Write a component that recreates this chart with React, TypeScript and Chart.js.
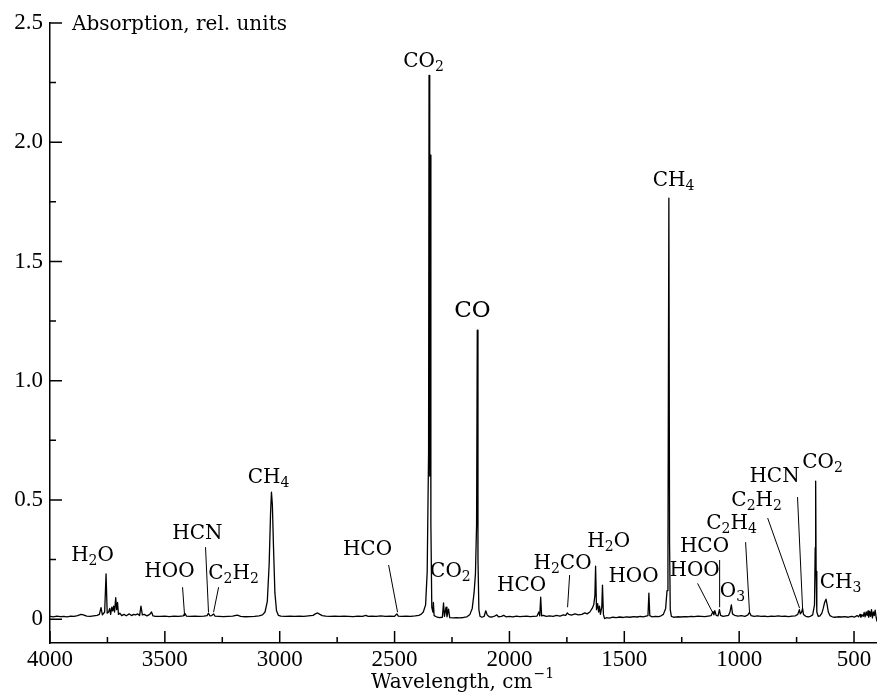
import React, { useEffect, useRef } from 'react';
import { Chart, registerables } from 'chart.js';

Chart.register(...registerables);

// ---- Spectrum data (wavenumber, cm^-1 / absorption, rel. units) ----
const wavenumbers = [
  4000, 3985, 3970, 3955, 3940, 3925, 3910, 3895, 3880, 3865, 3855, 3840, 3825, 3810, 3795, 3785,
  3778, 3772, 3762, 3756, 3751, 3745, 3740, 3736, 3731, 3727, 3723, 3719, 3714, 3710, 3706, 3702,
  3696, 3688, 3678, 3668, 3655, 3645, 3636, 3628, 3618, 3610, 3604, 3598, 3590, 3578, 3566, 3558,
  3552, 3540, 3520, 3500, 3480, 3460, 3440, 3420, 3413, 3406, 3390, 3370, 3350, 3330, 3316, 3310,
  3304, 3296, 3288, 3282, 3265, 3245, 3225, 3205, 3185, 3170, 3150, 3130, 3110, 3090, 3075, 3064,
  3054, 3046, 3040, 3036, 3032, 3027, 3021, 3014, 3006, 2995, 2975, 2955, 2935, 2915, 2895, 2875,
  2855, 2845, 2835, 2825, 2815, 2800, 2780, 2760, 2740, 2720, 2700, 2680, 2660, 2640, 2625, 2615,
  2600, 2580, 2560, 2540, 2520, 2500, 2490, 2484, 2470, 2450, 2430, 2410, 2395, 2385, 2375, 2365,
  2358, 2352, 2350, 2348, 2346, 2344, 2342, 2338, 2333, 2331, 2328, 2318, 2305, 2292, 2287, 2283,
  2276, 2272, 2265, 2260, 2245, 2230, 2215, 2200, 2185, 2172, 2162, 2154, 2148, 2143, 2140, 2137,
  2133, 2128, 2120, 2110, 2103, 2097, 2088, 2075, 2062, 2055, 2048, 2035, 2025, 2015, 2000, 1985,
  1970, 1955, 1940, 1925, 1910, 1895, 1880, 1872, 1868, 1864, 1860, 1852, 1840, 1825, 1810, 1795,
  1780, 1765, 1755, 1748, 1742, 1730, 1715, 1700, 1685, 1672, 1662, 1650, 1640, 1633, 1628, 1625,
  1621, 1616, 1612, 1608, 1604, 1598, 1595, 1591, 1586, 1578, 1565, 1550, 1535, 1520, 1505, 1490,
  1475, 1460, 1445, 1430, 1418, 1405, 1397, 1393, 1389, 1380, 1365, 1350, 1340, 1330, 1320, 1314,
  1310, 1306, 1303, 1300, 1295, 1285, 1270, 1255, 1240, 1225, 1210, 1195, 1180, 1165, 1150, 1135,
  1122, 1114, 1110, 1106, 1100, 1092, 1086, 1081, 1070, 1058, 1046, 1040, 1034, 1029, 1020, 1005,
  990, 975, 962, 955, 948, 935, 920, 905, 890, 875, 860, 845, 830, 815, 800, 785,
  770, 755, 745, 738, 734, 728, 724, 720, 710, 700, 690, 680, 672, 669, 667, 665,
  662, 656, 648, 640, 634, 628, 622, 617, 612, 605, 595, 585, 570, 555, 540, 525,
  510, 497, 487, 480, 474, 470, 465, 460, 456, 452, 447, 443, 439, 436, 432, 428,
  424, 420, 416, 412, 408, 404, 400,
];

const absorbance = [
  0.012, 0.010, 0.013, 0.011, 0.012, 0.010, 0.013, 0.012, 0.015, 0.020, 0.018, 0.013, 0.012, 0.014, 0.016, 0.020,
  0.048, 0.018, 0.030, 0.190, 0.025, 0.030, 0.045, 0.020, 0.050, 0.035, 0.055, 0.030, 0.090, 0.040, 0.070, 0.020,
  0.025, 0.015, 0.020, 0.014, 0.022, 0.015, 0.020, 0.018, 0.022, 0.015, 0.055, 0.018, 0.020, 0.014, 0.020, 0.030,
  0.014, 0.012, 0.012, 0.013, 0.011, 0.013, 0.012, 0.014, 0.024, 0.013, 0.012, 0.013, 0.012, 0.013, 0.015, 0.025,
  0.014, 0.015, 0.022, 0.013, 0.012, 0.011, 0.012, 0.013, 0.017, 0.012, 0.010, 0.011, 0.012, 0.014, 0.018, 0.030,
  0.075, 0.230, 0.440, 0.533, 0.480, 0.300, 0.110, 0.035, 0.016, 0.013, 0.012, 0.013, 0.012, 0.013, 0.012, 0.014,
  0.016, 0.022, 0.026, 0.020, 0.015, 0.013, 0.012, 0.013, 0.012, 0.013, 0.012, 0.011, 0.013, 0.012, 0.016, 0.012,
  0.013, 0.012, 0.014, 0.012, 0.013, 0.012, 0.022, 0.013, 0.012, 0.013, 0.012, 0.014, 0.016, 0.020, 0.030, 0.060,
  0.200, 0.700, 2.280, 1.100, 0.600, 1.946, 0.400, 0.050, 0.030, 0.070, 0.015, 0.010, 0.006, 0.008, 0.068, 0.012,
  0.050, 0.010, 0.042, 0.006, 0.005, 0.006, 0.005, 0.007, 0.010, 0.020, 0.045, 0.110, 0.190, 0.400, 1.212, 0.250,
  0.040, 0.012, 0.008, 0.012, 0.035, 0.018, 0.010, 0.009, 0.014, 0.018, 0.010, 0.012, 0.016, 0.010, 0.012, 0.010,
  0.013, 0.011, 0.012, 0.013, 0.011, 0.012, 0.013, 0.030, 0.014, 0.092, 0.014, 0.016, 0.012, 0.014, 0.012, 0.016,
  0.013, 0.018, 0.016, 0.026, 0.020, 0.017, 0.022, 0.018, 0.020, 0.026, 0.022, 0.030, 0.045, 0.060, 0.100, 0.222,
  0.040, 0.065, 0.030, 0.055, 0.020, 0.050, 0.143, 0.020, 0.002, 0.006, 0.004, 0.008, 0.006, 0.009, 0.007, 0.010,
  0.008, 0.011, 0.009, 0.012, 0.010, 0.013, 0.015, 0.109, 0.015, 0.010, 0.012, 0.011, 0.014, 0.020, 0.045, 0.120,
  0.260, 1.766, 0.320, 0.040, 0.012, 0.008, 0.010, 0.009, 0.011, 0.010, 0.012, 0.011, 0.013, 0.012, 0.011, 0.013,
  0.015, 0.032, 0.018, 0.036, 0.016, 0.014, 0.040, 0.016, 0.012, 0.014, 0.016, 0.030, 0.060, 0.022, 0.016, 0.013,
  0.015, 0.012, 0.018, 0.028, 0.015, 0.012, 0.014, 0.012, 0.013, 0.011, 0.013, 0.012, 0.014, 0.012, 0.013, 0.011,
  0.013, 0.014, 0.020, 0.040, 0.022, 0.030, 0.045, 0.020, 0.012, 0.010, 0.012, 0.018, 0.060, 0.300, 0.579, 0.200,
  0.030, 0.012, 0.014, 0.025, 0.045, 0.070, 0.084, 0.060, 0.030, 0.015, 0.010, 0.008, 0.010, 0.009, 0.011, 0.008,
  0.012, 0.009, 0.015, 0.010, 0.020, 0.008, 0.018, 0.012, 0.028, 0.010, 0.030, 0.015, 0.035, 0.008, 0.032, 0.012,
  0.040, 0.005, 0.030, 0.015, 0.038, 0.010, -0.010,
];

// ---- Axes ----
const xMajorTicks = [4000, 3500, 3000, 2500, 2000, 1500, 1000, 500];
const xMinorTicks = [3750, 3250, 2750, 2250, 1750, 1250, 750];
const yMajorTicks = [0, 0.5, 1.0, 1.5, 2.0, 2.5];
const yMinorTicks = [0.25, 0.75, 1.25, 1.75, 2.25];
const xRange = [400, 4000];
const yRange = [-0.1, 2.5];
const yAxisTitle = 'Absorption, rel. units';
const xAxisTitle = 'Wavelength, cm';
const xAxisTitleSup = '\u22121';

// ---- Peak annotations (text centre, in data coordinates) ----
const labelTexts = [
  'H2O', 'HOO', 'HCN', 'C2H2', 'CH4', 'HCO', 'CO2', 'CO2', 'CO', 'HCO', 'H2CO',
  'H2O', 'HOO', 'CH4', 'HOO', 'HCO', 'O3', 'C2H4', 'C2H2', 'HCN', 'CO2', 'CH3',
];
const labelX = [
  3815, 3480, 3358, 3201, 3049, 2618, 2374, 2257, 2161, 1947, 1769,
  1568, 1460, 1286, 1194, 1151, 1029, 1033, 924, 846, 637, 559,
];
const labelY = [
  0.273, 0.206, 0.365, 0.197, 0.600, 0.298, 2.345, 0.206, 1.300, 0.147, 0.239,
  0.331, 0.185, 1.846, 0.210, 0.310, 0.122, 0.407, 0.503, 0.604, 0.663, 0.159,
];
const largeLabels = ['CO'];

// ---- Leader lines (data coordinates) ----
const leaderX1 = [3423, 3323, 3266, 2526, 1738, 1181, 1085, 972, 876, 746];
const leaderY1 = [0.134, 0.302, 0.134, 0.227, 0.185, 0.150, 0.248, 0.323, 0.424, 0.512];
const leaderX2 = [3414, 3310, 3288, 2487, 1747, 1116, 1085, 955, 737, 724];
const leaderY2 = [0.013, 0.029, 0.029, 0.029, 0.050, 0.029, 0.050, 0.029, 0.046, 0.046];

const FONT = '"DejaVu Serif", "Liberation Serif", serif';
const TICK_FONT = '"Liberation Serif", "DejaVu Serif", serif';

function drawFormula(ctx: CanvasRenderingContext2D, text: string, cx: number, cy: number, size: number) {
  const tokens = text.match(/[A-Z][a-z]?|\d+/g) || [];
  const subSize = Math.round(size * 0.7);
  const parts = tokens.map((t) => {
    const sub = /^\d+$/.test(t);
    ctx.font = `${sub ? subSize : size}px ${FONT}`;
    return { t, sub, w: ctx.measureText(t).width };
  });
  const total = parts.reduce((s, p) => s + p.w, 0);
  let x = cx - total / 2;
  const baseline = cy + size * 0.36;
  ctx.textAlign = 'left';
  ctx.textBaseline = 'alphabetic';
  parts.forEach((p) => {
    ctx.font = `${p.sub ? subSize : size}px ${FONT}`;
    ctx.fillText(p.t, x, baseline + (p.sub ? size * 0.2 : 0));
    x += p.w;
  });
}

const decorPlugin = {
  id: 'spectrumDecor',
  afterDraw(chart: any) {
    const ctx: CanvasRenderingContext2D = chart.ctx;
    const xs = chart.scales.x;
    const ys = chart.scales.y;
    const area = chart.chartArea;
    ctx.save();
    ctx.strokeStyle = '#000';
    ctx.fillStyle = '#000';
    ctx.lineWidth = 1.5;
    ctx.beginPath();
    xMajorTicks.forEach((v) => {
      const px = xs.getPixelForValue(v);
      ctx.moveTo(px, area.bottom);
      ctx.lineTo(px, area.bottom - 12);
    });
    xMinorTicks.forEach((v) => {
      const px = xs.getPixelForValue(v);
      ctx.moveTo(px, area.bottom);
      ctx.lineTo(px, area.bottom - 6);
    });
    yMajorTicks.forEach((v) => {
      const py = ys.getPixelForValue(v);
      ctx.moveTo(area.left, py);
      ctx.lineTo(area.left + 12, py);
    });
    yMinorTicks.forEach((v) => {
      const py = ys.getPixelForValue(v);
      ctx.moveTo(area.left, py);
      ctx.lineTo(area.left + 6, py);
    });
    ctx.stroke();

    // leader lines
    ctx.lineWidth = 1;
    ctx.beginPath();
    leaderX1.forEach((_, i) => {
      ctx.moveTo(xs.getPixelForValue(leaderX1[i]), ys.getPixelForValue(leaderY1[i]));
      ctx.lineTo(xs.getPixelForValue(leaderX2[i]), ys.getPixelForValue(leaderY2[i]));
    });
    ctx.stroke();

    // peak labels
    labelTexts.forEach((t, i) => {
      const size = largeLabels.includes(t) ? 23 : 20;
      drawFormula(ctx, t, xs.getPixelForValue(labelX[i]), ys.getPixelForValue(labelY[i]), size);
    });

    // axis titles
    ctx.font = `20px ${FONT}`;
    ctx.textAlign = 'left';
    ctx.textBaseline = 'alphabetic';
    ctx.fillText(yAxisTitle, area.left + 22, 30);

    const w1 = ctx.measureText(xAxisTitle).width;
    ctx.font = `14px ${FONT}`;
    const w2 = ctx.measureText(xAxisTitleSup).width;
    const startX = 462 - (w1 + w2) / 2;
    ctx.font = `20px ${FONT}`;
    ctx.fillText(xAxisTitle, startX, 688);
    ctx.font = `14px ${FONT}`;
    ctx.fillText(xAxisTitleSup, startX + w1 + 1, 678);
    ctx.restore();
  },
};

export default function App() {
  const canvasRef = useRef<HTMLCanvasElement | null>(null);

  useEffect(() => {
    const canvas = canvasRef.current;
    if (!canvas) return;
    const points = wavenumbers.map((w, i) => ({ x: w, y: absorbance[i] }));
    const chart = new Chart(canvas, {
      type: 'line',
      data: {
        datasets: [
          {
            data: points,
            borderColor: '#000',
            borderWidth: 1.3,
            pointRadius: 0,
            tension: 0,
            fill: false,
            borderJoinStyle: 'round',
          },
        ],
      },
      options: {
        animation: false,
        responsive: false,
        devicePixelRatio: 1,
        layout: { padding: { top: 23, right: 0, bottom: 0, left: 0 } },
        plugins: { legend: { display: false }, tooltip: { enabled: false } },
        scales: {
          x: {
            type: 'linear',
            reverse: true,
            min: xRange[0],
            max: xRange[1],
            grid: { display: false, drawTicks: false },
            border: { display: true, color: '#000', width: 1.5 },
            afterBuildTicks: (s: any) => {
              s.ticks = xMajorTicks.map((v) => ({ value: v }));
            },
            afterFit: (s: any) => {
              s.height = 54;
            },
            ticks: {
              color: '#000',
              font: { family: TICK_FONT, size: 23 },
              padding: 3,
              maxRotation: 0,
              autoSkip: false,
              callback: (v: any) => String(v),
            },
          },
          y: {
            type: 'linear',
            min: yRange[0],
            max: yRange[1],
            grid: { display: false, drawTicks: false },
            border: { display: true, color: '#000', width: 1.5 },
            afterBuildTicks: (s: any) => {
              s.ticks = yMajorTicks.map((v) => ({ value: v }));
            },
            afterFit: (s: any) => {
              s.width = 50;
            },
            ticks: {
              color: '#000',
              font: { family: TICK_FONT, size: 23 },
              padding: 7,
              callback: (v: any) => (v === 0 ? '0' : Number(v).toFixed(1)),
            },
          },
        },
      },
      plugins: [decorPlugin],
    } as any);
    return () => chart.destroy();
  }, []);

  return (
    <div style={{ position: 'fixed', left: 0, top: 0, width: 877, height: 697, background: '#fff' }}>
      <canvas ref={canvasRef} width={877} height={697} style={{ display: 'block' }} />
    </div>
  );
}
